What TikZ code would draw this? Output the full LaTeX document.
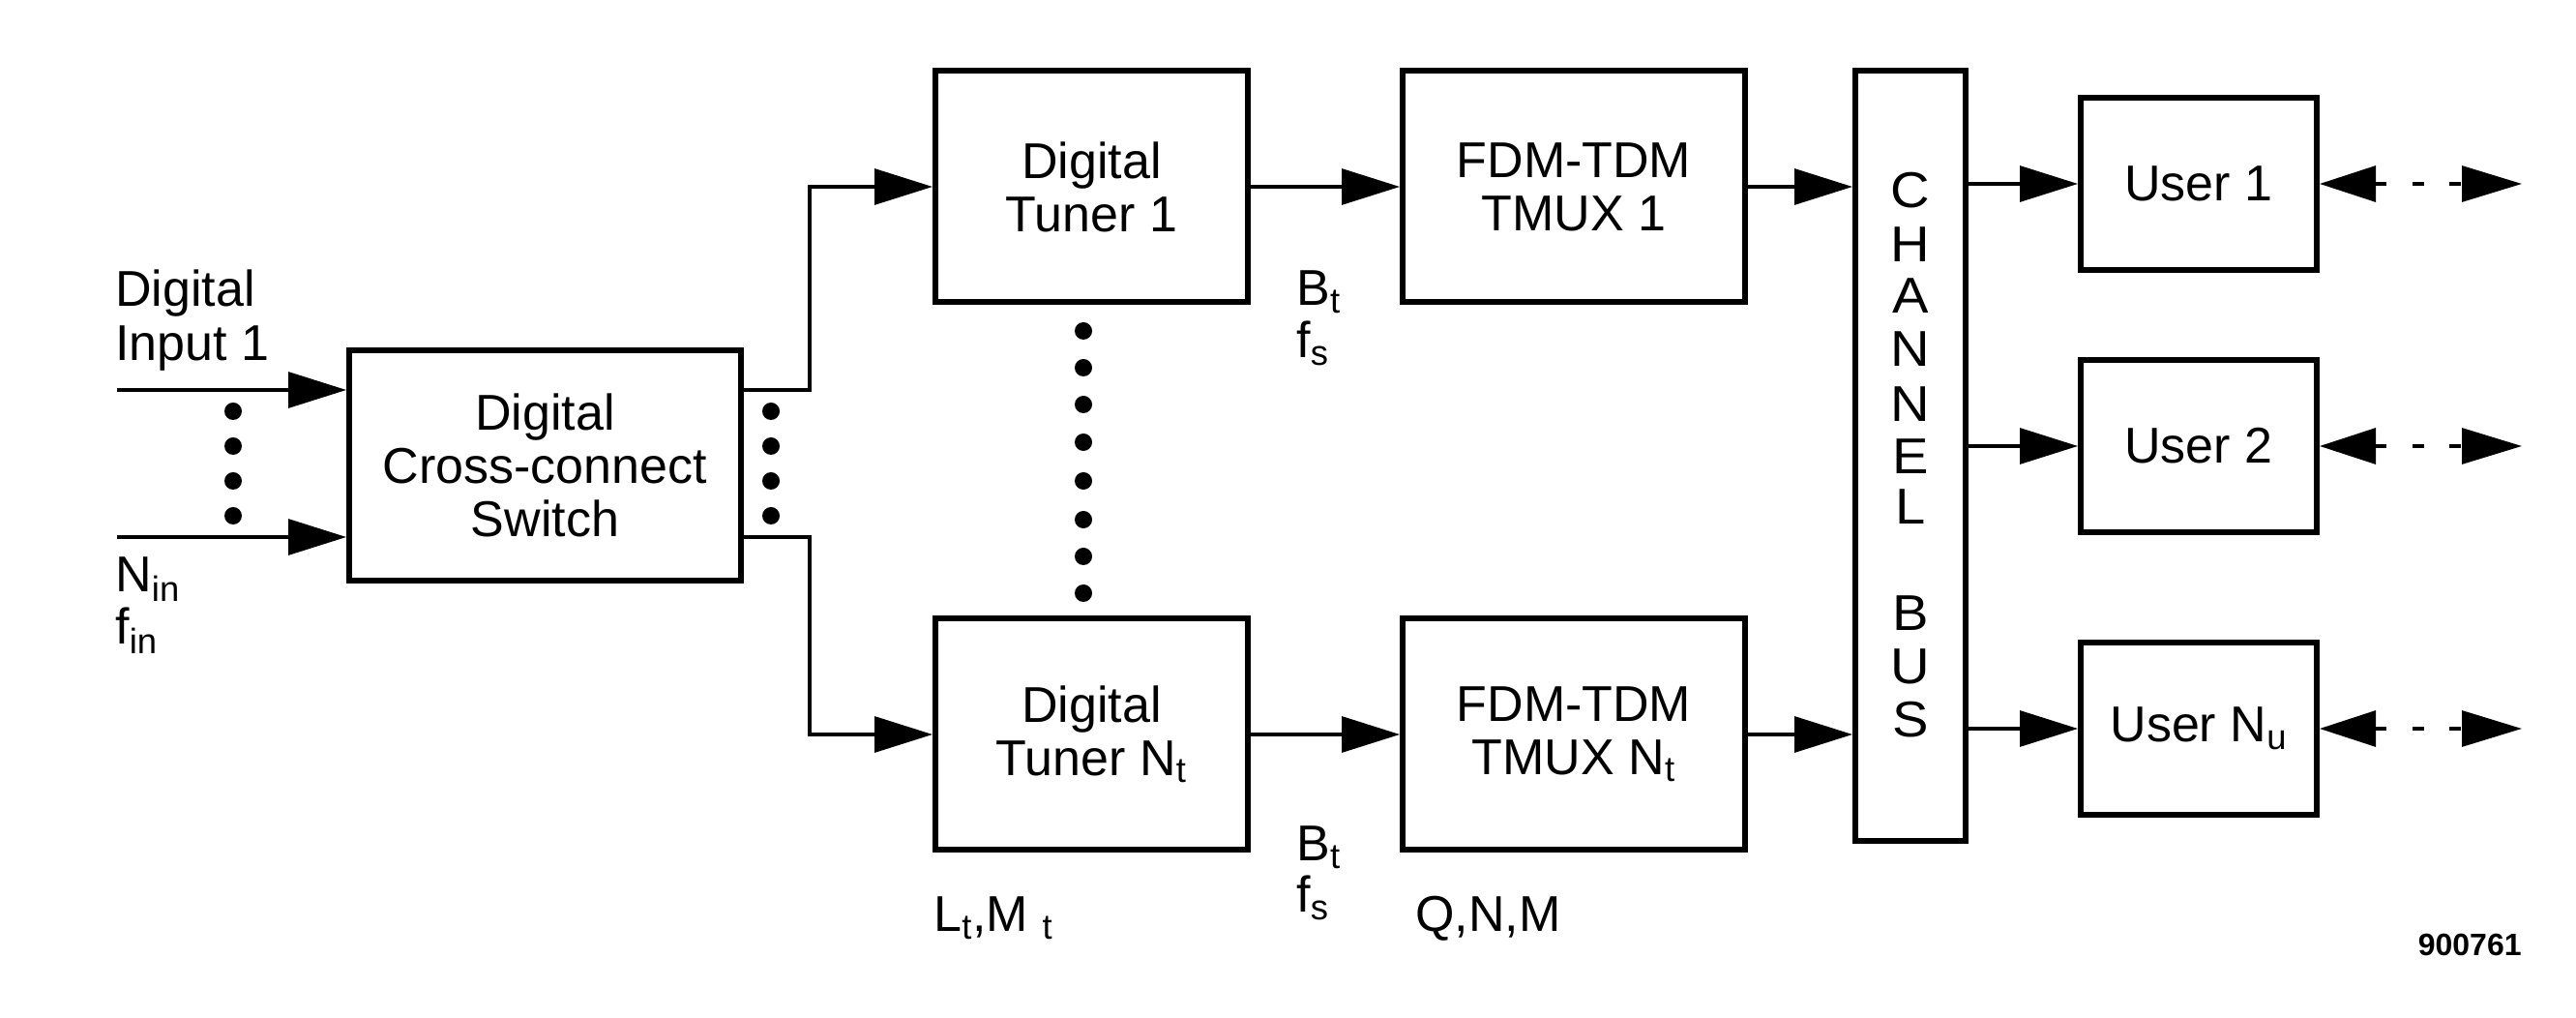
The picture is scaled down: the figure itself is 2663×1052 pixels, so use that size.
\documentclass[tikz,border=0pt]{standalone}
\usepackage{fontspec}
\setmainfont{Liberation Sans}
\usetikzlibrary{arrows.meta}
\newcommand\mainsz{\fontsize{26}{27.5}\selectfont}
\begin{document}
\begin{tikzpicture}[x=0.5pt,y=-0.5pt,
  box/.style={draw, line width=3pt, inner sep=0pt, align=center, font=\mainsz},
  conn/.style={line width=1.6pt, -{Triangle[length=30pt,width=18.5pt]}},
  darr/.style={line width=1.6pt, {Triangle[length=29pt,width=18.5pt]}-{Triangle[length=31pt,width=18.5pt]}, dash pattern=on 6pt off 13.25pt},
  lbl/.style={inner sep=0pt, font=\mainsz, anchor=base west},
  dotn/.style={circle, fill, inner sep=0pt, minimum size=9pt},
  busl/.style={inner sep=0pt, font=\fontsize{26}{26}\selectfont}]
\useasboundingbox[fill=white] (0,0) rectangle (2663,1052);

% boxes
\node[box, minimum width=202.5pt, minimum height=119pt] (sw) at (563.5,481) {Digital\\Cross-connect\\Switch};
\node[box, minimum width=161.5pt, minimum height=119.5pt] (t1) at (1128.5,193) {Digital\\Tuner 1};
\node[box, minimum width=161.5pt, minimum height=119.5pt] (tN) at (1128.5,759) {Digital\\Tuner N\textsubscript{t}};
\node[box, minimum width=177pt, minimum height=119.5pt] (m1) at (1627,193) {FDM-TDM\\TMUX 1};
\node[box, minimum width=177pt, minimum height=119.5pt] (mN) at (1627,759) {FDM-TDM\\TMUX N\textsubscript{t}};
\node[box, minimum width=57pt, minimum height=398pt] (bus) at (1975,471) {};
\node[box, minimum width=122pt, minimum height=89pt] (u1) at (2273,190) {User 1};
\node[box, minimum width=122pt, minimum height=89pt] (u2) at (2273,461) {User 2};
\node[box, minimum width=122pt, minimum height=89pt] (uN) at (2273,753) {User N\textsubscript{u}};

% channel bus letters
\foreach \l/\yy [count=\i] in {C/197,H/253,A/306,N/361,N/418,E/472,L/524,B/634,U/689,S/744}
  \node[busl] (bl\i) at (1975,\yy) {\scalebox{1.08}[1]{\l}};

% coordinates
\coordinate (in1) at (121,403);
\coordinate (inN) at (121,555);
\coordinate (bx) at (837,0);
\coordinate (rx) at (2607,0);

% connectors
\draw[conn] (in1) -- (sw.west |- in1);
\draw[conn] (inN) -- (sw.west |- inN);
\draw[conn] (sw.east |- in1) -| (bx |- t1.west) -- (t1.west);
\draw[conn] (sw.east |- inN) -| (bx |- tN.west) -- (tN.west);
\draw[conn] (t1.east) -- (m1.west);
\draw[conn] (tN.east) -- (mN.west);
\draw[conn] (m1.east) -- (m1.east -| bus.west);
\draw[conn] (mN.east) -- (mN.east -| bus.west);
\draw[conn] (bus.east |- u1) -- (u1.west);
\draw[conn] (bus.east |- u2) -- (u2.west);
\draw[conn] (bus.east |- uN) -- (uN.west);
\draw[darr] (u1.east) -- (rx |- u1.east);
\draw[darr] (u2.east) -- (rx |- u2.east);
\draw[darr] (uN.east) -- (rx |- uN.east);

% dots
\foreach \yy [count=\i] in {425,461,497,533} {
  \node[dotn] (dl\i) at (241,\yy) {};
  \node[dotn] (dr\i) at (797,\yy) {};
}
\foreach \yy [count=\i] in {342,380,418,457,497,537,575,613}
  \node[dotn] (dt\i) at (1120,\yy) {};

% labels
\node[lbl] (di1) at (119,317) {Digital};
\node[lbl] (di2) at (119,373) {Input 1};
\node[lbl] (nin) at (119,612) {N\textsubscript{in}};
\node[lbl] (fin) at (119,666) {f\textsubscript{in}};
\node[lbl] (bt1) at (1340,316) {B\textsubscript{t}};
\node[lbl] (fs1) at (1340,370) {f\textsubscript{s}};
\node[lbl] (bt2) at (1340,890) {B\textsubscript{t}};
\node[lbl] (fs2) at (1340,943) {f\textsubscript{s}};
\node[lbl] (lm) at (965,963) {L\textsubscript{t},M \textsubscript{t}};
\node[lbl] (qnm) at (1463,963) {Q,N,M};
\node[inner sep=0pt, anchor=base east, font=\bfseries\fontsize{16}{16}\selectfont] (num) at (2607,987) {900761};
\end{tikzpicture}
\end{document}
